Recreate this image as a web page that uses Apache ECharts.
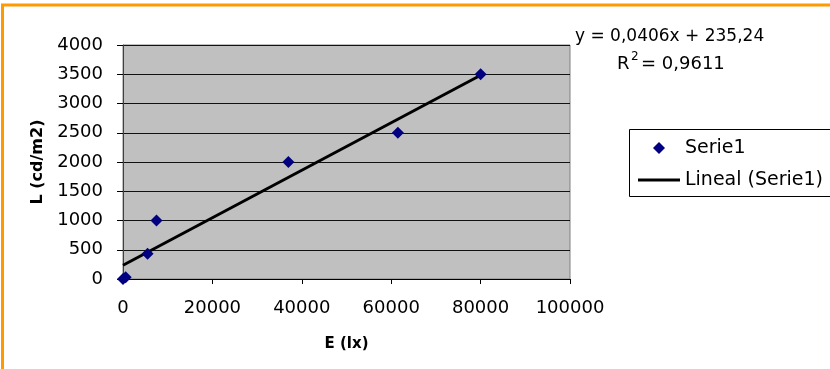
<!DOCTYPE html>
<html>
<head>
<meta charset="utf-8">
<script src="https://cdn.jsdelivr.net/npm/echarts@6/dist/echarts.min.js"></script>
<style>
html,body{margin:0;padding:0;background:#fff;}
#chart{width:830px;height:369px;}
</style>
</head>
<body>
<div id="chart"></div>
<script>
// Data
var illuminance = [0, 600, 5500, 7500, 37000, 61500, 80000];   // E (lx)
var luminance   = [0, 30, 430, 1000, 2000, 2500, 3500];        // L (cd/m2)
var trendX = [0, 80000];
var trendY = [235, 3483];
var xTicks = [0, 20000, 40000, 60000, 80000, 100000];
var yTicks = [0, 500, 1000, 1500, 2000, 2500, 3000, 3500, 4000];
var equationText = 'y = 0,0406x + 235,24';
var r2Value = '= 0,9611';

var FONT = 'DejaVu Sans';
var chart = echarts.init(document.getElementById('chart'), null, {renderer: 'canvas'});

var scatterData = illuminance.map(function (x, i) { return [x, luminance[i]]; });
var trendData = trendX.map(function (x, i) { return [x, trendY[i]]; });
var plain = function (v) { return String(v); };

chart.setOption({
  animation: false,
  backgroundColor: '#ffffff',
  grid: {
    left: 123, right: 260, top: 45, bottom: 90,
    show: true, backgroundColor: '#C0C0C0', borderColor: '#808080', borderWidth: 1,
    outerBoundsMode: 'none'
  },
  xAxis: {
    type: 'value',
    min: xTicks[0], max: xTicks[xTicks.length - 1], interval: xTicks[1] - xTicks[0],
    name: 'E (lx)', nameLocation: 'middle', nameGap: 58,
    nameTextStyle: {fontFamily: FONT, fontSize: 15, fontWeight: 'bold', color: '#000'},
    axisLine: {show: true, lineStyle: {color: '#000', width: 1}},
    axisTick: {show: true, inside: false, length: 5, lineStyle: {color: '#000'}},
    axisLabel: {fontFamily: FONT, fontSize: 18, color: '#000', margin: 20, formatter: plain},
    splitLine: {show: false}
  },
  yAxis: {
    type: 'value',
    min: yTicks[0], max: yTicks[yTicks.length - 1], interval: yTicks[1] - yTicks[0],
    name: 'L (cd/m2)', nameLocation: 'middle', nameGap: 75,
    nameTextStyle: {fontFamily: FONT, fontSize: 16, fontWeight: 'bold', color: '#000'},
    axisLine: {show: true, lineStyle: {color: '#404040', width: 1}},
    axisTick: {show: true, inside: false, length: 6, lineStyle: {color: '#000'}},
    axisLabel: {fontFamily: FONT, fontSize: 18, color: '#000', margin: 20, formatter: plain},
    splitLine: {show: true, lineStyle: {color: '#111', width: 1}}
  },
  legend: {
    orient: 'vertical',
    left: 629, top: 129,
    padding: [9, 10, 6, 9],
    itemGap: 12,
    itemWidth: 42, itemHeight: 12,
    symbolKeepAspect: true,
    backgroundColor: 'transparent',
    borderWidth: 0,
    selectedMode: false,
    textStyle: {fontFamily: FONT, fontSize: 19, color: '#000', lineHeight: 20},
    data: [
      {name: 'Serie1', icon: 'path://M6,0 L12,6 L6,12 L0,6 Z', itemStyle: {color: '#000080', opacity: 1}},
      {name: 'Lineal (Serie1)', icon: 'path://M0,0 L42,0 L42,3 L0,3 Z', itemStyle: {color: '#000', opacity: 1}}
    ]
  },
  series: [
    {
      name: 'Lineal (Serie1)',
      type: 'line',
      data: trendData,
      symbol: 'none',
      lineStyle: {color: '#000', width: 3},
      itemStyle: {color: '#000'},
      z: 2
    },
    {
      name: 'Serie1',
      type: 'scatter',
      data: scatterData,
      symbol: 'diamond',
      symbolSize: 12,
      itemStyle: {color: '#000080', opacity: 1},
      z: 3
    }
  ],
  graphic: [
    {
      type: 'rect', silent: true, z: 0,
      shape: {x: 629.5, y: 129.5, width: 300, height: 67},
      style: {fill: '#fff', stroke: '#000', lineWidth: 1}
    },
    {
      type: 'rect', silent: true, z: 100,
      shape: {x: 2.5, y: 5, width: 900, height: 500},
      style: {fill: 'none', stroke: '#FF9A00', lineWidth: 3}
    },
    {
      type: 'text', left: 575, top: 28, silent: true,
      style: {text: equationText, font: '17px "DejaVu Sans"', fill: '#000'}
    },
    {
      type: 'text', left: 617, top: 55, silent: true,
      style: {text: 'R', font: '18px "DejaVu Sans"', fill: '#000'}
    },
    {
      type: 'text', left: 631, top: 51, silent: true,
      style: {text: '2', font: '12px "DejaVu Sans"', fill: '#000'}
    },
    {
      type: 'text', left: 641, top: 55, silent: true,
      style: {text: r2Value, font: '18px "DejaVu Sans"', fill: '#000'}
    }
  ]
});
</script>
</body>
</html>
